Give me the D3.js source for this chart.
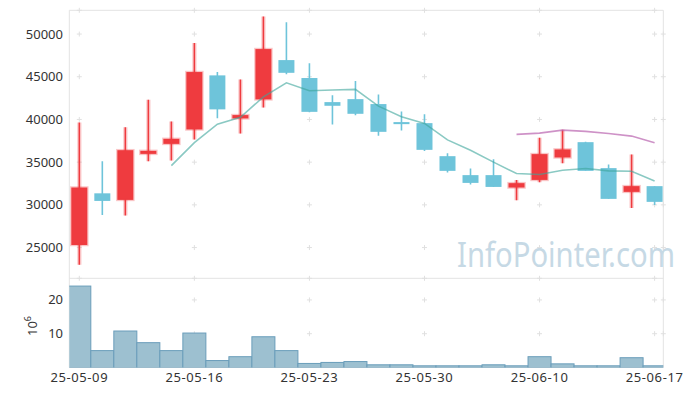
<!DOCTYPE html>
<html>
<head>
<meta charset="utf-8">
<script src="https://cdnjs.cloudflare.com/ajax/libs/d3/7.8.5/d3.min.js"></script>
<style>
  body { margin: 0; background: #fff; }
  text { font-family: "Noto Sans", sans-serif; }
</style>
</head>
<body>
<script>
// trading days (index based axis)
var dates = ["25-05-09","25-05-12","25-05-13","25-05-14","25-05-15","25-05-16","25-05-19","25-05-20","25-05-21","25-05-22",
             "25-05-23","25-05-26","25-05-27","25-05-28","25-05-29","25-05-30","25-06-02","25-06-04","25-06-05","25-06-09",
             "25-06-10","25-06-11","25-06-12","25-06-13","25-06-16","25-06-17"];
var open  = [25300,31350,30580,35970,37140,38830,45160,40120,42350,46950,44850,42030,42380,41800,39690,39570,35700,33480,33480,32030,32920,35550,37340,34300,31520,32190];
var high  = [39650,35100,39100,42300,39770,48950,45550,44690,52050,51370,46570,42820,44490,42930,40940,40620,36050,34260,35350,32920,37850,38780,37400,34730,35900,32190];
var low   = [23000,28820,28750,35100,35200,37660,40150,38360,41410,45300,40850,39420,40500,38080,38710,36300,33790,32380,32100,30540,32650,34880,33980,30700,29640,29990];
var close = [32030,30460,36400,36320,37730,45550,41180,40510,48240,45460,40890,41600,40660,38550,39450,36440,33980,32570,32100,32540,35940,36490,33980,30700,32190,30350];
// volume, millions of shares
var volume = [24.1,5.0,10.8,7.35,5.0,10.2,2.06,3.2,9.1,5.0,1.2,1.5,1.76,0.8,0.8,0.5,0.5,0.5,0.8,0.5,3.2,1.08,0.5,0.5,2.9,0.5];
// moving averages
var ma5  = [null,null,null,null,34590,37290,39440,40260,42640,44290,43360,43440,43520,41560,40310,39530,37610,36400,35000,33670,33560,34060,34260,33980,33940,32800];
var ma20 = [null,null,null,null,null,null,null,null,null,null,null,null,null,null,null,null,null,null,null,38250,38400,38750,38600,38360,38050,37260];

var priceTicks = [25000,30000,35000,40000,45000,50000];
var volTicks = [10,20];
var xTickIdx = [0,5,10,15,20,25];

var W = 693, H = 396;
var left = 69.3, right = 663.3;
var top1 = 10.3, bot1 = 278.3, bot2 = 367.5;

var svg = d3.select("body").append("svg").attr("width", W).attr("height", H);

var x = d3.scaleLinear().domain([-0.435, 25.378]).range([left, right]);
var step = x(1) - x(0);
var y = d3.scaleLinear().domain([21400, 52780]).range([bot1, top1]);
var yv = d3.scaleLinear().domain([0, 26.4]).range([bot2, bot1]);

var defs = svg.append("defs");
defs.append("clipPath").attr("id", "clipV").append("rect")
    .attr("x", left).attr("y", bot1).attr("width", right - left).attr("height", bot2 - bot1);
defs.append("clipPath").attr("id", "clipP").append("rect")
    .attr("x", left).attr("y", top1).attr("width", right - left).attr("height", bot1 - top1);

// frames
var frame = "#e3e3e3";
svg.append("line").attr("x1", left).attr("x2", right).attr("y1", top1).attr("y2", top1).attr("stroke", frame);
svg.append("line").attr("x1", left).attr("x2", right).attr("y1", bot1).attr("y2", bot1).attr("stroke", frame);
svg.append("line").attr("x1", left).attr("x2", right).attr("y1", bot2).attr("y2", bot2).attr("stroke", frame);
svg.append("line").attr("x1", left).attr("x2", left).attr("y1", top1).attr("y2", bot2).attr("stroke", frame);
svg.append("line").attr("x1", right).attr("x2", right).attr("y1", top1).attr("y2", bot2).attr("stroke", frame);

// grid crosses
function cross(cx, cy) {
  svg.append("path").attr("d", "M" + (cx - 2.5) + "," + cy + "H" + (cx + 2.5) + "M" + cx + "," + (cy - 2.5) + "V" + (cy + 2.5))
     .attr("stroke", "#e0e0e0").attr("stroke-width", 1).attr("fill", "none");
}
xTickIdx.forEach(function(i) {
  priceTicks.forEach(function(p) { cross(x(i), y(p)); });
  volTicks.forEach(function(v) { cross(x(i), yv(v)); });
  cross(x(i), top1); cross(x(i), bot1);
});
priceTicks.forEach(function(p) { cross(right, y(p)); });
volTicks.forEach(function(v) { cross(right, yv(v)); });

// volume bars
svg.append("g").attr("clip-path", "url(#clipV)")
  .selectAll("rect").data(volume).enter().append("rect")
  .attr("x", function(d, i) { return x(i) - step / 2; })
  .attr("width", step)
  .attr("y", function(d) { return yv(d); })
  .attr("height", function(d) { return yv(0) - yv(d); })
  .attr("fill", "#9dc0d0")
  .attr("stroke", "#6a9dba")
  .attr("stroke-width", 1);

// candles
var candles = dates.map(function(d, i) {
  return { i: i, o: open[i], h: high[i], l: low[i], c: close[i], up: close[i] >= open[i] };
});
var RED = "#ef3b3f", BLUE = "#6ec4da";
var bw = 16;
var cg = svg.append("g").attr("clip-path", "url(#clipP)");
var cnd = cg.selectAll("g.c").data(candles).enter().append("g").attr("class", "c");
cnd.filter(function(d) { return d.up; }).append("line")
  .attr("x1", function(d) { return x(d.i); }).attr("x2", function(d) { return x(d.i); })
  .attr("y1", function(d) { return y(d.h); }).attr("y2", function(d) { return y(d.l); })
  .attr("stroke", "rgba(239,59,63,0.22)").attr("stroke-width", 4.5);
cnd.append("line")
  .attr("x1", function(d) { return x(d.i); }).attr("x2", function(d) { return x(d.i); })
  .attr("y1", function(d) { return y(d.h); }).attr("y2", function(d) { return y(d.l); })
  .attr("stroke", function(d) { return d.up ? RED : BLUE; }).attr("stroke-width", 1.6);
cnd.append("rect")
  .attr("x", function(d) { return x(d.i) - bw / 2; })
  .attr("width", bw)
  .attr("y", function(d) { return y(Math.max(d.o, d.c)); })
  .attr("height", function(d) { return Math.max(1.5, Math.abs(y(d.o) - y(d.c))); })
  .attr("fill", function(d) { return d.up ? RED : BLUE; })
  .attr("stroke", function(d) { return d.up ? "rgba(239,59,63,0.3)" : "none"; })
  .attr("stroke-width", 2.5);

// moving averages
function maLine(arr) {
  return d3.line().defined(function(d) { return d != null; })
    .x(function(d, i) { return x(i); }).y(function(d) { return y(d); })(arr);
}
cg.append("path").attr("d", maLine(ma5)).attr("fill", "none")
  .attr("stroke", "rgba(60,165,155,0.6)").attr("stroke-width", 1.6);
cg.append("path").attr("d", maLine(ma20)).attr("fill", "none")
  .attr("stroke", "rgba(185,100,175,0.7)").attr("stroke-width", 1.6);

// axis labels
var lab = "#333";
svg.selectAll("text.py").data(priceTicks).enter().append("text")
  .attr("x", 63).attr("y", function(d) { return y(d); }).attr("dy", "0.35em")
  .attr("text-anchor", "end").attr("font-size", 13).attr("fill", lab).text(function(d) { return d; });
svg.selectAll("text.vy").data(volTicks).enter().append("text")
  .attr("x", 63).attr("y", function(d) { return yv(d); }).attr("dy", "0.35em")
  .attr("text-anchor", "end").attr("font-size", 13).attr("fill", lab).text(function(d) { return d; });
svg.selectAll("text.xt").data(xTickIdx).enter().append("text")
  .attr("x", function(d) { return x(d); }).attr("y", 382)
  .attr("text-anchor", "middle").attr("font-size", 13).attr("letter-spacing", 0.6)
  .attr("fill", lab).text(function(d) { return dates[d]; });

var unit = svg.append("text").attr("transform", "translate(37,326) rotate(-90)")
  .attr("font-size", 13).attr("fill", lab).attr("text-anchor", "middle");
unit.append("tspan").text("10");
unit.append("tspan").attr("dy", -6).attr("font-size", 9).text("6");

// watermark
svg.append("text").attr("x", 457).attr("y", 267)
  .attr("font-size", 34).attr("fill", "rgb(198,217,229)")
  .attr("textLength", 218).attr("lengthAdjust", "spacingAndGlyphs")
  .text("InfoPointer.com");
</script>
</body>
</html>
